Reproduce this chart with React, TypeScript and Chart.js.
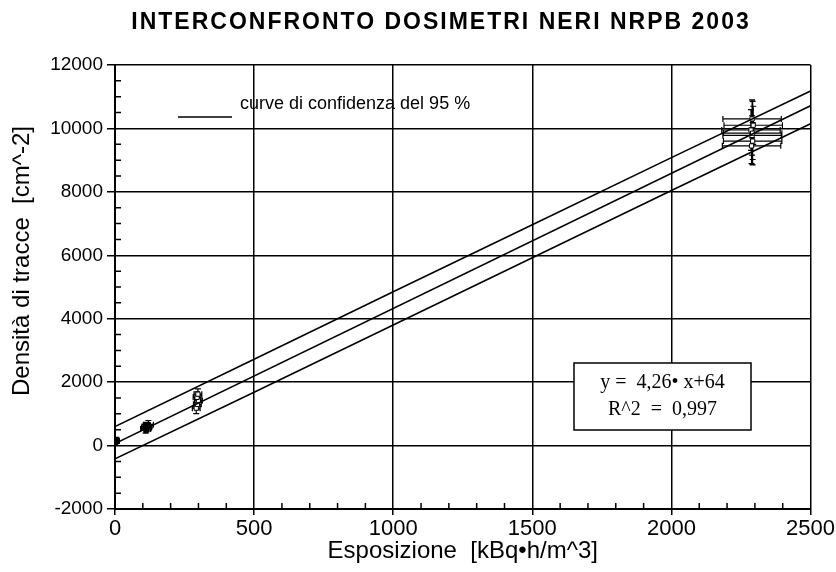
import React, { useEffect, useRef } from "react";
import { Chart, registerables } from "chart.js";
Chart.register(...registerables);

const chartTitle = "INTERCONFRONTO DOSIMETRI NERI NRPB 2003";
const xTitle = "Esposizione  [kBq•h/m^3]";
const yTitle = "Densità di tracce  [cm^-2]";
const legendText = "curve di confidenza del 95 %";
const eqLine1 = "y =  4,26• x+64";
const eqLine2 = "R^2  =  0,997";

// axis ranges / ticks
const xMin = 0, xMax = 2500, xStep = 500, xMinor = 100;
const yMin = -2000, yMax = 12000, yStep = 2000, yMinor = 500;

// regression line y = 4.26x + 64
const regX = [0, 2500];
const regY = [64, 10714];

// 95% confidence curves
const bandX = [0, 500, 1000, 1500, 2000, 2500];
const upperY = [600, 2720, 4850, 6960, 9080, 11180];
const lowerY = [-420, 1680, 3800, 5920, 8040, 10150];

// measured dosimeters (exposure, track density) with error bars
const ptX = [0, 3, 6, 110, 115, 120, 113, 292, 296, 300, 295, 298, 2288, 2292, 2290, 2286, 2294, 2290, 2292];
const ptY = [120, 180, 150, 520, 600, 660, 560, 1180, 1300, 1420, 1520, 1620, 9450, 9600, 9780, 9950, 10100, 10300, 9850];
const errX = [10, 10, 10, 18, 18, 18, 18, 14, 14, 14, 14, 14, 105, 105, 105, 105, 105, 105, 105];
const errY = [80, 80, 80, 130, 130, 130, 130, 170, 170, 170, 170, 170, 560, 580, 620, 640, 600, 600, 1000];

const FONT = "'Liberation Sans', Arial, Helvetica, sans-serif";

export default function App() {
  const ref = useRef<HTMLCanvasElement>(null);
  useEffect(() => {
    document.body.style.margin = "0";
    const toXY = (xs: number[], ys: number[]) => xs.map((x, i) => ({ x, y: ys[i] }));

    const minorTicks = {
      id: "minorTicks",
      afterDraw(chart: any) {
        const { ctx, chartArea } = chart;
        const xs = chart.scales.x, ys = chart.scales.y;
        ctx.save();
        ctx.strokeStyle = "#000";
        ctx.lineWidth = 1.5;
        ctx.beginPath();
        for (let v = xMin; v <= xMax; v += xMinor) {
          if (v % xStep === 0) continue;
          const px = xs.getPixelForValue(v);
          ctx.moveTo(px, chartArea.bottom);
          ctx.lineTo(px, chartArea.bottom - 6);
        }
        for (let v = yMin; v <= yMax; v += yMinor) {
          if (v % yStep === 0) continue;
          const py = ys.getPixelForValue(v);
          ctx.moveTo(chartArea.left, py);
          ctx.lineTo(chartArea.left + 6, py);
        }
        ctx.stroke();
        ctx.restore();
      },
    };

    const errorBars = {
      id: "errorBars",
      beforeDatasetsDraw(chart: any) {
        const { ctx, chartArea } = chart;
        const xs = chart.scales.x, ys = chart.scales.y;
        ctx.save();
        ctx.beginPath();
        ctx.rect(chartArea.left, chartArea.top, chartArea.right - chartArea.left, chartArea.bottom - chartArea.top);
        ctx.clip();
        ctx.strokeStyle = "#000";
        ctx.lineWidth = 1.2;
        const cap = 3;
        ctx.beginPath();
        ptX.forEach((x, i) => {
          const y = ptY[i];
          const x0 = xs.getPixelForValue(x - errX[i]);
          const x1 = xs.getPixelForValue(x + errX[i]);
          const yc = ys.getPixelForValue(y);
          const xc = xs.getPixelForValue(x);
          const y0 = ys.getPixelForValue(y - errY[i]);
          const y1 = ys.getPixelForValue(y + errY[i]);
          ctx.moveTo(x0, yc); ctx.lineTo(x1, yc);
          ctx.moveTo(x0, yc - cap); ctx.lineTo(x0, yc + cap);
          ctx.moveTo(x1, yc - cap); ctx.lineTo(x1, yc + cap);
          ctx.moveTo(xc, y0); ctx.lineTo(xc, y1);
          ctx.moveTo(xc - cap, y0); ctx.lineTo(xc + cap, y0);
          ctx.moveTo(xc - cap, y1); ctx.lineTo(xc + cap, y1);
        });
        ctx.stroke();
        ctx.restore();
      },
    };

    const annotations = {
      id: "annotations",
      afterDraw(chart: any) {
        const { ctx, chartArea } = chart;
        const L = chartArea.left, T = chartArea.top;
        ctx.save();
        // title
        ctx.fillStyle = "#000";
        ctx.font = `bold 23px ${FONT}`;
        ctx.textAlign = "center";
        ctx.textBaseline = "middle";
        try { (ctx as any).letterSpacing = "2px"; } catch (e) {}
        ctx.fillText(chartTitle, 441, 23);
        try { (ctx as any).letterSpacing = "0px"; } catch (e) {}
        // y axis title
        ctx.save();
        ctx.translate(22, 261);
        ctx.rotate(-Math.PI / 2);
        ctx.font = `24px ${FONT}`;
        ctx.fillText(yTitle, 0, 0);
        ctx.restore();
        // legend
        ctx.strokeStyle = "#000";
        ctx.lineWidth = 1.5;
        ctx.beginPath();
        ctx.moveTo(L + 63, T + 52);
        ctx.lineTo(L + 117, T + 52);
        ctx.stroke();
        ctx.font = `18px ${FONT}`;
        ctx.textAlign = "left";
        ctx.fillText(legendText, L + 125, T + 39);
        // equation box
        const bx = L + 459, by = T + 298, bw = 177, bh = 67;
        ctx.fillStyle = "#fff";
        ctx.fillRect(bx, by, bw, bh);
        ctx.lineWidth = 1.5;
        ctx.strokeRect(bx, by, bw, bh);
        ctx.fillStyle = "#000";
        ctx.font = `20px 'Liberation Serif', 'Times New Roman', serif`;
        ctx.textAlign = "center";
        ctx.fillText(eqLine1, bx + bw / 2, by + 20);
        ctx.fillText(eqLine2, bx + bw / 2, by + 47);
        ctx.restore();
      },
    };

    const lineDs = (xs: number[], ys: number[]) => ({
      type: "line" as const,
      data: toXY(xs, ys),
      borderColor: "#000",
      borderWidth: 1.6,
      pointRadius: 0,
      fill: false,
    });

    const chart = new Chart(ref.current!, {
      type: "scatter",
      data: {
        datasets: [
          lineDs(regX, regY),
          lineDs(bandX, upperY),
          lineDs(bandX, lowerY),
          {
            data: toXY(ptX, ptY),
            pointStyle: "rect",
            pointRadius: 3,
            backgroundColor: (c: any) => (c.raw && c.raw.x < 200 ? "#000" : "#fff"),
            borderColor: "#000",
            borderWidth: 1,
          } as any,
        ],
      },
      options: {
        responsive: false,
        animation: false,
        events: [],
        layout: { padding: { left: 0, right: 24, top: 65, bottom: 0 } },
        plugins: {
          legend: { display: false },
          tooltip: { enabled: false },
          title: { display: false },
        },
        scales: {
          x: {
            type: "linear",
            min: xMin,
            max: xMax,
            afterFit: (s: any) => { s.height = 63; },
            ticks: { stepSize: xStep, color: "#000", font: { family: FONT, size: 22 }, padding: 1, maxRotation: 0, callback: (v: any) => String(v) },
            grid: { color: "#000", lineWidth: 1.5, tickLength: 6, drawTicks: true },
            border: { color: "#000", width: 2 },
            title: { display: true, text: xTitle, color: "#000", font: { family: FONT, size: 24 }, padding: { top: 0, bottom: 6 } },
          },
          y: {
            type: "linear",
            min: yMin,
            max: yMax,
            afterFit: (s: any) => { s.width = 115; },
            ticks: { stepSize: yStep, color: "#000", font: { family: FONT, size: 19 }, padding: 4, callback: (v: any) => String(v) },
            grid: { color: "#000", lineWidth: 1.5, tickLength: 8, drawTicks: true },
            border: { color: "#000", width: 2 },
            title: { display: false },
          },
        },
      },
      plugins: [errorBars, minorTicks, annotations],
    });
    return () => chart.destroy();
  }, []);
  return (
    <div style={{ width: 836, height: 572, background: "#fff" }}>
      <canvas ref={ref} width={836} height={572} style={{ display: "block" }} />
    </div>
  );
}
